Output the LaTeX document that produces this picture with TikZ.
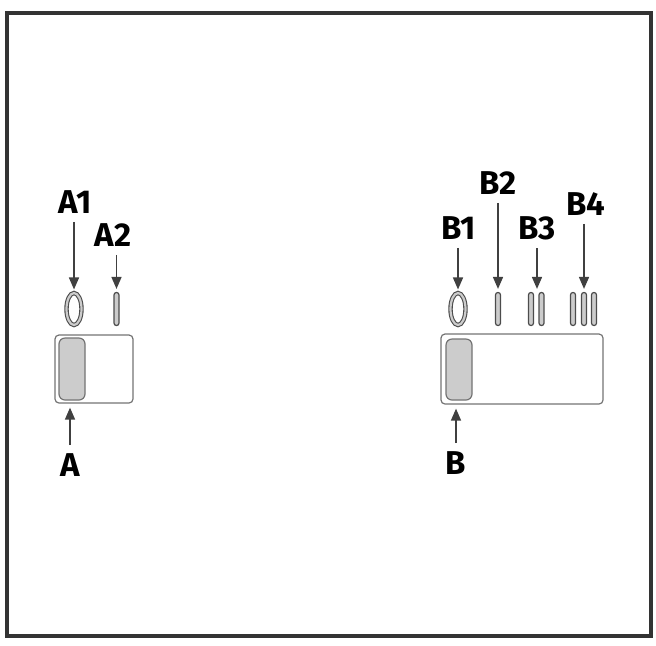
\documentclass[tikz,border=0pt]{standalone}
\usepackage{fontspec}
\setmainfont{Fira Sans}
\usetikzlibrary{arrows.meta,shapes.geometric}
\begin{document}
\begin{tikzpicture}[x=0.5pt,y=-0.5pt,
    lbl/.style={font=\fontsize{16.5}{19}\selectfont\bfseries,inner sep=1pt},
    arr/.style={draw=black!75,line width=0.75pt,shorten <=3pt,shorten >=1.5pt,
      -{Triangle[length=6pt,width=5pt]}},
    loop/.style={ellipse,draw=black!70,double=gray!40,double distance=1.1pt,
      line width=0.55pt,minimum width=7.5pt,minimum height=16pt,inner sep=0pt},
    band/.style={rectangle,rounded corners=1.2pt,draw=black!70,fill=gray!40,
      line width=0.6pt,minimum width=2.5pt,minimum height=16.5pt,inner sep=0pt},
    gel/.style={rectangle,rounded corners=2pt,draw=black!55,line width=0.6pt,inner sep=0pt},
    well/.style={gel,fill=gray!40,rounded corners=3pt}]
    \useasboundingbox (0,0) rectangle (656,645);
    \draw [line width=1.6pt,color=black!80] (7,13) rectangle (651,636);
    % left lane
    \node [gel,minimum width=39pt,minimum height=34pt] (boxA) at (94,369) {};
    \node [well,minimum width=13pt,minimum height=31pt] (wellA) at (72,369) {};
    \node [loop] (a1) at (74,309) {};
    \node [band] (a2) at (116.5,309) {};
    \node [lbl] (labA1) at (75,202) {A1};
    \node [lbl] (labA2) at (113,235) {A2};
    \node [lbl] (labA) at (70,465) {A};
    \draw [arr] (a1 |- labA1.south) -- (a1.north);
    \draw [arr] (a2 |- labA2.south) -- (a2.north);
    \draw [arr,shorten >=2pt] (labA) -- (labA |- boxA.south);
    % right lane
    \node [gel,minimum width=81pt,minimum height=35pt] (boxB) at (522,369) {};
    \node [well,minimum width=13pt,minimum height=30.5pt] (wellB) at (459,369.5) {};
    \node [loop] (b1) at (458,309) {};
    \node [band] (b2) at (498,309) {};
    \node [band] (b3a) at (531,309) {};
    \node [band] (b3b) at (541.5,309) {};
    \node [band] (b4a) at (573,309) {};
    \node [band] (b4b) at (584,309) {};
    \node [band] (b4c) at (594,309) {};
    \node [lbl] (labB1) at (459,228) {B1};
    \node [lbl] (labB2) at (498,183) {B2};
    \node [lbl] (labB3) at (537,228) {B3};
    \node [lbl] (labB4) at (586,204) {B4};
    \node [lbl] (labB) at (456,463) {B};
    \draw [arr] (b1 |- labB1.south) -- (b1.north);
    \draw [arr] (b2 |- labB2.south) -- (b2.north);
    \draw [arr] (labB3) -- (labB3 |- b3a.north);
    \draw [arr] (b4b |- labB4.south) -- (b4b.north);
    \draw [arr,shorten >=2pt] (labB) -- (labB |- boxB.south);
\end{tikzpicture}
\end{document}
